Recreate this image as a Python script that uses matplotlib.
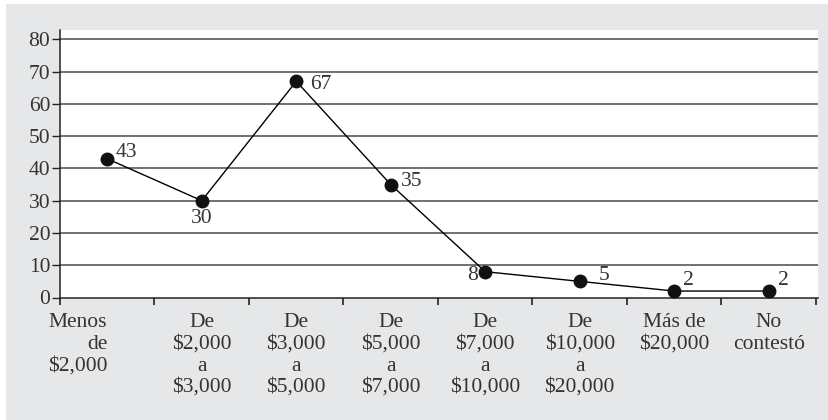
import matplotlib
matplotlib.use("Agg")
import matplotlib.pyplot as plt
from matplotlib.patches import Rectangle

categories = ["Menos\nde\n$2,000", "De\n$2,000\na\n$3,000", "De\n$3,000\na\n$5,000",
              "De\n$5,000\na\n$7,000", "De\n$7,000\na\n$10,000", "De\n$10,000\na\n$20,000",
              "Más de\n$20,000", "No\ncontestó"]
values = [43, 30, 67, 35, 8, 5, 2, 2]
y_ticks = [0, 10, 20, 30, 40, 50, 60, 70, 80]

# label offsets in pixels (dx, dy) and horizontal alignment
label_pos = [(8, 6, "left"), (0, -18, "center"), (14, -3, "left"), (10, 3, "left"),
             (-7, -4, "right"), (19, 6, "left"), (9, 11, "left"), (9, 11, "left")]

plt.rcParams["font.family"] = ["Liberation Serif", "DejaVu Serif"]
text_color = "#333333"
fs = 15.5

W, H = 829, 420
fig = plt.figure(figsize=(W / 100, H / 100), dpi=100)
fig.patch.set_facecolor("white")
fig.add_artist(Rectangle((6 / W, 0), 1 - 6 / W, (H - 4) / H, transform=fig.transFigure,
                         facecolor="#e6e7e8", edgecolor="none", zorder=0))

ax = fig.add_axes([60 / W, (H - 297.5) / H, (818 - 60) / W, (297.5 - 30) / H])
ax.set_facecolor("white")
n = len(values)
x = list(range(n))
ax.set_xlim(-0.5, n - 0.5 + 2 / 94.5)
ax.set_ylim(0, 82.9)

for yt in y_ticks[1:]:
    ax.axhline(yt, color="#4a4a4a", lw=1.1, zorder=1)

ax.plot(x, values, color="black", lw=1.0, marker="o", markersize=9,
        markerfacecolor="#111111", markeredgecolor="#111111", zorder=3, clip_on=False)

for xi, v, (dx, dy, ha) in zip(x, values, label_pos):
    ax.annotate(str(v), (xi, v), xytext=(dx * 0.72, dy * 0.72), textcoords="offset points",
                ha=ha, va="center", fontsize=fs, color=text_color, zorder=4)

for s in ["top", "right"]:
    ax.spines[s].set_visible(False)
for s in ["left", "bottom"]:
    ax.spines[s].set_color("#222222")
    ax.spines[s].set_linewidth(1.1)

ax.set_yticks(y_ticks)
ax.set_yticklabels([str(t) for t in y_ticks])
ax.tick_params(axis="y", length=6, width=1, color="#222222", pad=1,
               labelsize=fs, labelcolor=text_color)

# boundary ticks between categories, labels at category centres
ax.set_xticks([i - 0.5 for i in range(n + 1)])
ax.set_xticklabels([])
ax.set_xticks(x, minor=True)
ax.set_xticklabels(categories, minor=True, fontsize=fs, color=text_color,
                   linespacing=1.18)
ax.tick_params(axis="x", which="major", length=5, width=1.2, color="#222222")
ax.tick_params(axis="x", which="minor", length=0, pad=11.5)
first = ax.get_xticklabels(minor=True)[0]
first.set_horizontalalignment("right")
first.set_multialignment("right")
first.set_x(0.03)

fig.savefig("out.png", dpi=100, facecolor=fig.get_facecolor())
